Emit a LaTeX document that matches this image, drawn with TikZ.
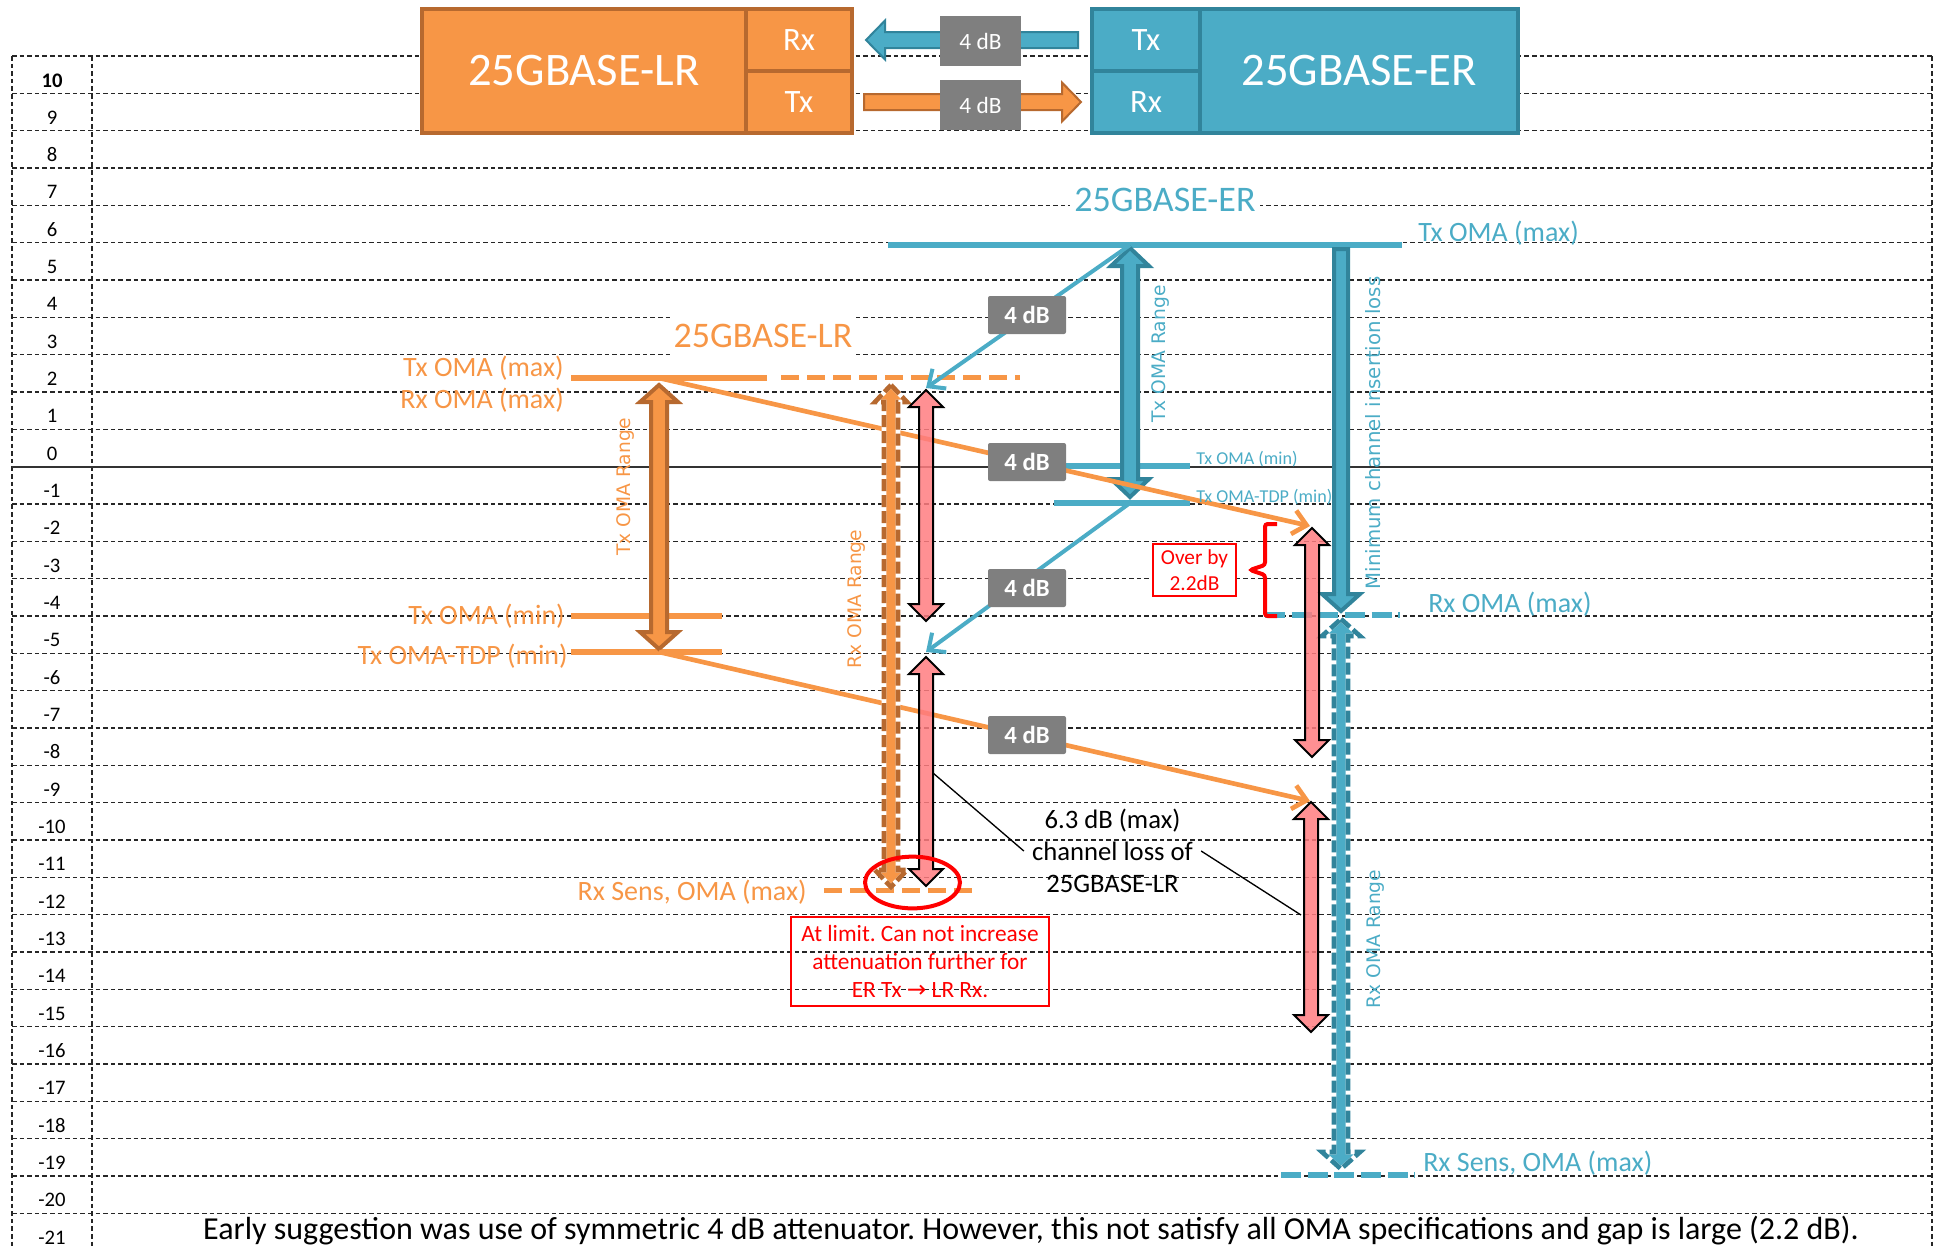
\documentclass[tikz,border=0pt]{standalone}
\usepackage{fontspec}
\setmainfont{Carlito}
\newfontfamily\verd{DejaVu Sans}
\usetikzlibrary{arrows.meta,calc}
\definecolor{LROrange}{HTML}{F79646}
\definecolor{LRDark}{HTML}{B7692F}
\definecolor{ERBlue}{HTML}{4BACC6}
\definecolor{ERDark}{HTML}{31849B}
\definecolor{AttGray}{HTML}{7F7F7F}
\definecolor{LossPink}{HTML}{FF7C80}
\definecolor{NoteRed}{HTML}{FF0000}
\frenchspacing

% fat arrow from #2 to #3: half shaft #4, half head #5, head length #6
\newcommand{\fatarrow}[6]{%
  \coordinate (fa-b) at ($(#3)!#6!(#2)$);
  \path[#1] ($(#2)!#4!90:(#3)$) -- ($(fa-b)!#4!90:(#3)$) -- ($(fa-b)!#5!90:(#3)$) -- (#3)
    -- ($(fa-b)!#5!-90:(#3)$) -- ($(fa-b)!#4!-90:(#3)$) -- ($(#2)!#4!-90:(#3)$) -- cycle;}
% same, with a head at both ends
\newcommand{\fatarrows}[6]{%
  \coordinate (fa-a) at ($(#2)!#6!(#3)$);
  \coordinate (fa-b) at ($(#3)!#6!(#2)$);
  \path[#1] (#2) -- ($(fa-a)!#5!90:(#3)$) -- ($(fa-a)!#4!90:(#3)$) -- ($(fa-b)!#4!90:(#3)$)
    -- ($(fa-b)!#5!90:(#3)$) -- (#3) -- ($(fa-b)!#5!-90:(#3)$) -- ($(fa-b)!#4!-90:(#3)$)
    -- ($(fa-a)!#4!-90:(#3)$) -- ($(fa-a)!#5!-90:(#3)$) -- cycle;}

\begin{document}
\begin{tikzpicture}[x=0.75pt, y=-0.75pt,
  gridline/.style={black!85, line width=0.9pt, dash pattern=on 3.5pt off 2.2pt},
  axislbl/.style={anchor=base, inner sep=0pt, font=\fontsize{15.5}{18}\selectfont},
  charttitle/.style={fill=white, anchor=base, inner xsep=3pt, inner ysep=7pt, font=\fontsize{27}{32}\selectfont},
  lrcell/.style={draw=LRDark, fill=LROrange, line width=3pt, text=white, inner sep=0pt, outer sep=0pt,
    anchor=north west, font=\fontsize{24.5}{29}\selectfont},
  ercell/.style={draw=ERDark, fill=ERBlue, line width=3pt, text=white, inner sep=0pt, outer sep=0pt,
    anchor=north west, font=\fontsize{24.5}{29}\selectfont},
  toptag/.style={fill=AttGray, text=white, inner sep=0pt, minimum width=60.75pt, minimum height=37.5pt,
    font=\fontsize{17.5}{21}\selectfont},
  attbox/.style={fill=AttGray, text=white, rounded corners=1.5pt, inner sep=0pt, minimum width=58.5pt,
    minimum height=28.5pt, font=\bfseries\fontsize{18.5}{22}\selectfont},
  lrtext/.style={text=LROrange, inner sep=0pt, font=\fontsize{21}{25}\selectfont},
  ertext/.style={text=ERBlue, inner sep=0pt, font=\fontsize{21}{25}\selectfont},
  rangetext/.style={rotate=90, inner sep=0pt, font=\verd\fontsize{14}{16}\selectfont},
  lrlevel/.style={LROrange, line width=4.5pt},
  erlevel/.style={ERBlue, line width=4.5pt},
  lrdash/.style={LROrange, line width=4pt, dash pattern=on 13.5pt off 6pt},
  erdash/.style={ERBlue, line width=4.5pt, dash pattern=on 15pt off 5pt},
  lrpath/.style={LROrange, line width=3.5pt, -{Straight Barb[length=10pt, width=18pt]}},
  erpath/.style={ERBlue, line width=3pt, -{Straight Barb[length=10pt, width=18pt]}},
  lrrange/.style={draw=LRDark, fill=LROrange, line width=3pt},
  errange/.style={draw=ERDark, fill=ERBlue, line width=3pt},
  rangedash/.style={line width=3.5pt, dash pattern=on 9pt off 3pt},
  lossarrow/.style={draw=black, fill=LossPink, fill opacity=0.85, line width=1.5pt},
  note/.style={draw=NoteRed, text=NoteRed, line width=1.2pt, align=center, inner sep=1pt}]
\useasboundingbox (0,0) rectangle (1936,1247);

% rows of the dB scale
\foreach \k in {0,...,31} {
  \draw[gridline] (12,56+37.33*\k) -- (1932,56+37.33*\k);
  \pgfmathtruncatemacro{\dbval}{10-\k}
  \ifnum\k=0
    \node[axislbl, font=\bfseries\fontsize{15.5}{18}\selectfont] (row\k) at (52,87+37.33*\k) {\dbval};
  \else
    \node[axislbl] (row\k) at (52,87+37.33*\k) {\dbval};
  \fi
}
\foreach \x in {12,92,1932}
  \draw[gridline] (\x,56) -- (\x,1247);
\draw[black!80, line width=1.5pt] (12,466.6) -- (1932,466.6);

\node[charttitle, text=LROrange] (lrtitle) at (763,347) {25GBASE-LR};
\node[charttitle, text=ERBlue] (ertitle) at (1165,211) {25GBASE-ER};

% the two transceivers
\node[lrcell, minimum width=243pt, minimum height=93pt, font=\fontsize{35}{42}\selectfont] (lrname) at (422,9) {25GBASE-LR};
\node[lrcell, minimum width=79.5pt, minimum height=46.5pt] (lrrx) at (lrname.north east) {Rx};
\node[lrcell, minimum width=79.5pt, minimum height=46.5pt] (lrtx) at (lrrx.south west) {Tx};
\node[ercell, minimum width=81pt, minimum height=46.5pt] (ertx) at (1092,9) {Tx};
\node[ercell, minimum width=81pt, minimum height=46.5pt] (errx) at (ertx.south west) {Rx};
\node[ercell, minimum width=238.5pt, minimum height=93pt, font=\fontsize{35}{42}\selectfont] (ername) at (ertx.north east) {25GBASE-ER};

\coordinate (erOut) at ($(ertx.west)+(-14,0)$);
\coordinate (lrIn) at ($(lrrx.east)+(14,0)$);
\coordinate (lrOut) at ($(lrtx.east)+(12,0)$);
\coordinate (erIn) at ($(errx.west)+(-11,0)$);
\fatarrow{draw=ERDark, fill=ERBlue, line width=1.5pt}{erOut}{lrIn}{6pt}{14.6pt}{14.25pt}
\fatarrow{draw=LRDark, fill=LROrange, line width=1.5pt}{lrOut}{erIn}{6pt}{14.6pt}{14.25pt}
\node[toptag] (tagER) at (980.5,41) {4 dB};
\node[toptag] (tagLR) at (980.5,105) {4 dB};

% levels
\draw[lrlevel] (571,377.5) -- (767,377.5);
\draw[lrdash] (781,377.5) -- (1020,377.5);
\draw[lrlevel] (571,616) -- (722,616);
\draw[lrlevel] (571,652) -- (722,652);
\draw[lrdash] (824,890.5) -- (975,890.5);
\draw[erlevel] (888,244.5) -- (1402,244.5);
\draw[erlevel] (1065,466) -- (1190,466);
\draw[erlevel] (1054,503) -- (1190,503);
\draw[erdash] (1265,614.5) -- (1400,614.5);
\draw[erdash] (1281,1175) -- (1415,1175);

\coordinate (lrTxTop) at (659,385);
\coordinate (lrTxBot) at (659,649);
\coordinate (lrRxTop) at (891,385);
\coordinate (lrRxBot) at (891,887);
\coordinate (erTxTop) at (1130,248);
\coordinate (erTxBot) at (1130,497);
\coordinate (erLossTop) at (1341,249);
\coordinate (erLossBot) at (1341,611);
\coordinate (erRxTop) at (1341,619);
\coordinate (erRxBot) at (1341,1169);

\fatarrows{lrrange}{lrTxTop}{lrTxBot}{6pt}{14.25pt}{12.75pt}
\fatarrows{errange}{erTxTop}{erTxBot}{6pt}{14.25pt}{13.5pt}
\fatarrow{errange}{erLossTop}{erLossBot}{5.25pt}{14.25pt}{12.75pt}
\fatarrows{draw=white, fill=ERBlue, line width=3.5pt}{erRxTop}{erRxBot}{5.25pt}{14.25pt}{12.75pt}
\fatarrows{draw=ERDark, rangedash}{erRxTop}{erRxBot}{5.25pt}{14.25pt}{12.75pt}

% attenuated paths
\coordinate (lrTxMaxPt) at (659,378);
\coordinate (lrTdpPt) at (659,652);
\coordinate (erTxMaxPt) at (1130,245);
\coordinate (erTdpPt) at (1130,503);
\coordinate (atErHi) at (1310,526);
\coordinate (atErLo) at (1310,801);
\coordinate (atLrHi) at (926,388);
\coordinate (atLrLo) at (926,652);
\draw[erpath] (erTxMaxPt) -- (atLrHi);
\draw[erpath] (erTdpPt) -- (atLrLo);
\draw[lrpath] (lrTxMaxPt) -- (atErHi);
\draw[lrpath] (lrTdpPt) -- (atErLo);

\fatarrows{draw=white, fill=LROrange, line width=3.5pt}{lrRxTop}{lrRxBot}{5.25pt}{12pt}{12.75pt}
\fatarrows{draw=LRDark, rangedash}{lrRxTop}{lrRxBot}{5.25pt}{12pt}{12.75pt}

% channel loss spans
\coordinate (lossA1) at (926,390);
\coordinate (lossB1) at (926,621);
\coordinate (lossA2) at (926,657);
\coordinate (lossB2) at (926,886);
\coordinate (lossA3) at (1312,528);
\coordinate (lossB3) at (1312,757);
\coordinate (lossA4) at (1311,802);
\coordinate (lossB4) at (1311,1032);
\fatarrows{lossarrow}{lossA1}{lossB1}{5.25pt}{12.75pt}{12.75pt}
\fatarrows{lossarrow}{lossA2}{lossB2}{5.25pt}{12.75pt}{12.75pt}
\fatarrows{lossarrow}{lossA3}{lossB3}{5.25pt}{12.75pt}{12.75pt}
\fatarrows{lossarrow}{lossA4}{lossB4}{5.25pt}{12.75pt}{12.75pt}

\node[attbox] (att1) at (1027,315) {4 dB};
\node[attbox] (att2) at (1027,462) {4 dB};
\node[attbox] (att3) at (1027,588) {4 dB};
\node[attbox] (att4) at (1027,735) {4 dB};

% labels
\node[lrtext, anchor=base east] (lrTxMaxL) at (564,376) {Tx OMA (max)};
\node[lrtext, anchor=base east] (lrRxMaxL) at (564,408) {Rx OMA (max)};
\node[lrtext, anchor=base east] (lrTxMinL) at (565,624) {Tx OMA (min)};
\node[lrtext, anchor=base east] (lrTdpL) at (568,664) {Tx OMA-TDP (min)};
\node[lrtext, anchor=base east] (lrSensL) at (807,900) {Rx Sens, OMA (max)};
\node[ertext, anchor=base west] (erTxMaxL) at (1418,241) {Tx OMA (max)};
\node[ertext, anchor=base west] (erRxMaxL) at (1428,612) {Rx OMA (max)};
\node[ertext, anchor=base west] (erSensL) at (1423,1171) {Rx Sens, OMA (max)};
\node[ertext, anchor=base west, font=\fontsize{13.6}{16}\selectfont] (erTxMinL) at (1196,464) {Tx OMA (min)};
\node[ertext, anchor=base west, font=\fontsize{13.6}{16}\selectfont] (erTdpL) at (1196,502) {Tx OMA-TDP (min)};

\node[rangetext, text=LROrange] (lrTxRange) at (626,487) {Tx OMA Range};
\node[rangetext, text=LROrange] (lrRxRange) at (857,599) {Rx OMA Range};
\node[rangetext, text=ERBlue] (erTxRange) at (1161,354) {Tx OMA Range};
\node[rangetext, text=ERBlue, font=\verd\fontsize{14.8}{17}\selectfont] (erLoss) at (1373,433) {Minimum channel insertion loss};
\node[rangetext, text=ERBlue] (erRxRange) at (1376,939) {Rx OMA Range};

% notes
\draw[NoteRed, line width=3pt, rounded corners=2pt] (1277,524) -- (1265,524) -- (1265,565) -- (1250,570)
  -- (1265,575) -- (1265,616) -- (1277,616);
\node[note, fill=white, minimum width=62pt, minimum height=39pt, font=\fontsize{16}{20}\selectfont] (overby) at (1194.5,570) {Over by\\2.2dB};
\draw[NoteRed, line width=3pt] (912.5,882.5) ellipse [x radius=35.6pt, y radius=19.4pt];
\node[note, minimum width=193.5pt, minimum height=67pt, font=\fontsize{17.5}{21}\selectfont] (atlimit) at (920,961.5)
  {At limit. Can not increase\\attenuation further for\\ER Tx {\verd→} LR Rx.};

\coordinate (lossTap1) at (933,773);
\coordinate (lossTap2) at (1301,915);
\node[inner sep=6pt, align=center, font=\fontsize{20}{24}\selectfont] (loss63) at (1112.5,851) {6.3 dB (max)\\channel loss of\\25GBASE-LR};
\draw[line width=1pt] (lossTap1) -- (loss63.west);
\draw[line width=1pt] (loss63.east) -- (lossTap2);

\node[anchor=base, inner sep=0pt, font=\fontsize{24}{29}\selectfont] (summary) at (1031,1239)
  {Early suggestion was use of symmetric 4 dB attenuator. However, this not satisfy all OMA specifications and gap is large (2.2 dB).};
\end{tikzpicture}
\end{document}
